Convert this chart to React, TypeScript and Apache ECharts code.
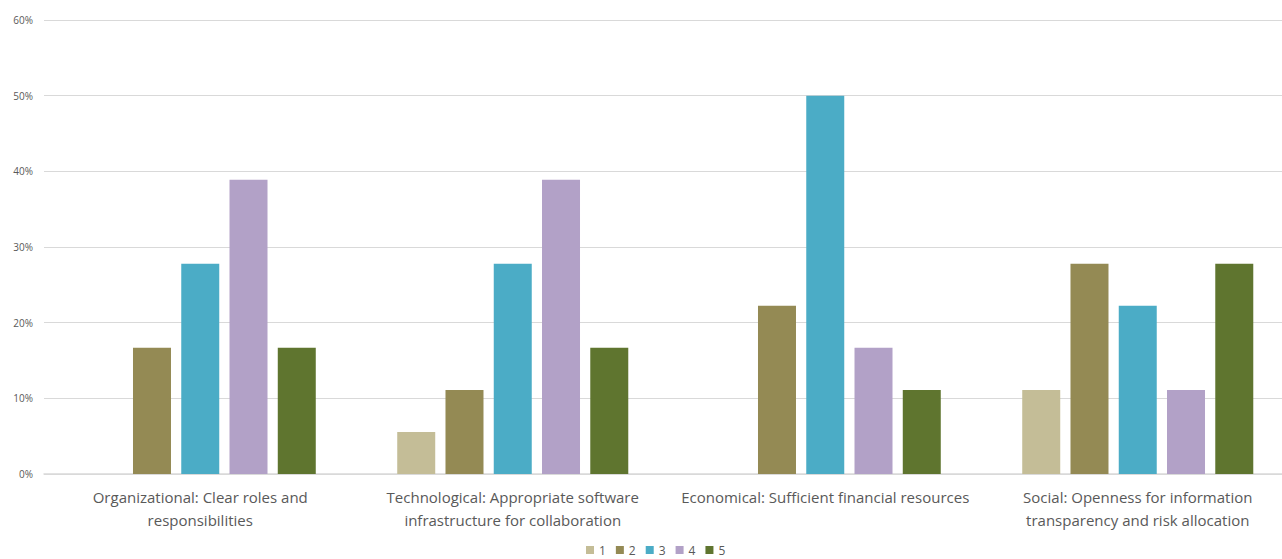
import React, { useEffect, useRef } from "react";
import * as echarts from "echarts";

// Share of respondents (%) per rating 1–5 for each success factor
const categories = [
  "Organizational: Clear roles and\nresponsibilities",
  "Technological: Appropriate software\ninfrastructure for collaboration",
  "Economical: Sufficient financial resources",
  "Social: Openness for information\ntransparency and risk allocation",
];
const rating1 = [0, 5.56, 0, 11.11];
const rating2 = [16.67, 11.11, 22.22, 27.78];
const rating3 = [27.78, 27.78, 50, 22.22];
const rating4 = [38.89, 38.89, 16.67, 11.11];
const rating5 = [16.67, 16.67, 11.11, 27.78];
const seriesNames = ["1", "2", "3", "4", "5"];
const seriesData = [rating1, rating2, rating3, rating4, rating5];
const colors = ["#c4bd97", "#948a54", "#4bacc6", "#b2a1c7", "#5f752f"];
const yTicks = { min: 0, max: 60, interval: 10 };

const FONT = "'Open Sans', 'Liberation Sans', sans-serif";

export default function App() {
  const ref = useRef<HTMLDivElement>(null);

  useEffect(() => {
    if (!ref.current) return;
    const chart = echarts.init(ref.current, undefined, { renderer: "svg" });
    chart.setOption({
      animation: false,
      backgroundColor: "#ffffff",
      color: colors,
      // the canvas is wider than the visible frame; the plot runs past its right edge
      grid: { left: 44, width: 1250, top: 20, height: 454, containLabel: false },
      legend: {
        data: seriesNames,
        left: 586,
        top: 544,
        padding: 0,
        itemWidth: 8,
        itemHeight: 8,
        itemGap: 10,
        icon: "rect",
        textStyle: { color: "#595959", fontSize: 12, lineHeight: 12, fontFamily: FONT },
      },
      xAxis: {
        type: "category",
        data: categories,
        axisTick: { show: false },
        axisLine: { lineStyle: { color: "#d9d9d9", width: 1.5 } },
        axisLabel: {
          color: "#595959",
          fontSize: 15,
          lineHeight: 23,
          fontFamily: FONT,
          margin: 11,
          interval: 0,
        },
      },
      yAxis: {
        type: "value",
        min: yTicks.min,
        max: yTicks.max,
        interval: yTicks.interval,
        axisLine: { show: false },
        axisTick: { show: false },
        splitLine: { lineStyle: { color: "#d9d9d9", width: 1.2 } },
        axisLabel: {
          formatter: "{value}%",
          color: "#595959",
          fontSize: 10,
          fontFamily: FONT,
          margin: 11,
        },
      },
      series: seriesNames.map((name, i) => ({
        name,
        type: "bar",
        data: seriesData[i],
        barWidth: 38,
        barGap: "27%",
        itemStyle: { color: colors[i] },
      })),
    });
    return () => chart.dispose();
  }, []);

  return (
    <div style={{ position: "fixed", left: 0, top: 0, width: 1282, height: 559, overflow: "hidden", background: "#fff" }}>
      <div ref={ref} style={{ width: 1310, height: 559 }} />
    </div>
  );
}
